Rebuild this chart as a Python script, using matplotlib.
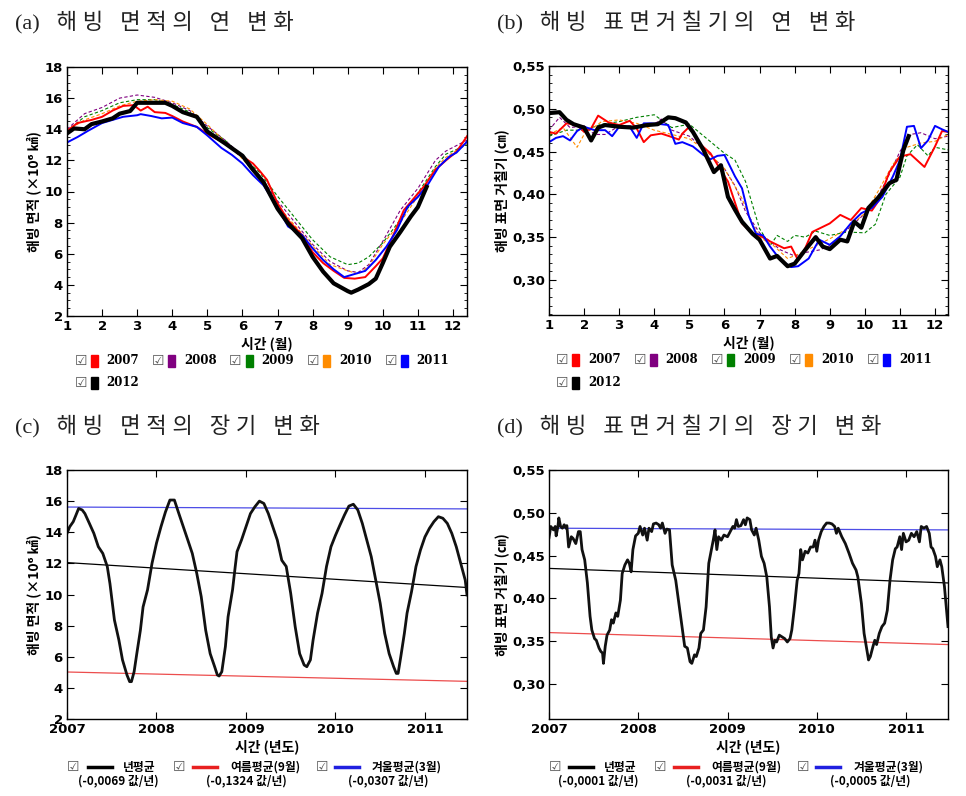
import matplotlib
matplotlib.use('Agg')
import matplotlib.pyplot as plt
from matplotlib.ticker import MultipleLocator, FuncFormatter
from matplotlib.patches import Rectangle
from matplotlib.lines import Line2D

KR = ['Noto Sans CJK KR', 'DejaVu Sans']
TITLE_FAM = ['Liberation Serif', 'Noto Sans CJK KR']

# ---------------- (a) sea-ice extent, annual cycle ----------------
years = ['2007', '2008', '2009', '2010', '2011', '2012']
year_colors = ['#ff0000', '#800080', '#008000', '#ff8c00', '#0000ff', '#000000']

a_x_2007 = [1.0, 1.3, 1.7, 2.0, 2.3, 2.6, 2.9, 3.1, 3.3, 3.5, 3.8, 4.0, 4.3, 4.7, 5.0, 5.5, 6.0, 6.3, 6.5, 6.7,
            7.0, 7.3, 7.7, 8.0, 8.3, 8.6, 8.9, 9.2, 9.5, 9.8, 10.0, 10.3, 10.6, 10.9, 11.2, 11.5, 11.8, 12.1, 12.4]
a_y_2007 = [13.9, 14.4, 14.6, 14.8, 15.2, 15.5, 15.55, 15.2, 15.45, 15.1, 15.05, 14.85, 14.5, 14.15, 13.7, 13.1,
            12.25, 11.8, 11.3, 10.75, 9.25, 8.15, 7.2, 6.1, 5.4, 4.9, 4.45, 4.4, 4.5, 5.2, 5.7, 7.2, 8.8, 9.6, 10.4,
            11.4, 12.0, 12.55, 13.55]
a_x_dash = [1.0, 1.5, 2.0, 2.5, 3.0, 3.5, 4.0, 4.5, 5.0, 5.5, 6.0, 6.5, 7.0, 7.5, 8.0, 8.5, 9.0, 9.3, 9.6, 10.0,
            10.5, 11.0, 11.5, 11.8, 12.4]
a_y_2008 = [14.0, 15.0, 15.4, 16.0, 16.2, 16.05, 15.7, 15.2, 14.2, 13.3, 12.3, 11.0, 9.4, 8.0, 6.6, 5.5, 4.9, 4.8,
            5.3, 6.8, 8.8, 10.2, 12.0, 12.6, 13.3]
a_y_2009 = [13.9, 14.8, 15.2, 15.7, 15.9, 15.9, 15.6, 15.1, 14.1, 13.3, 12.2, 11.2, 9.7, 8.3, 6.9, 5.8, 5.3, 5.4,
            5.8, 6.7, 8.2, 9.9, 11.6, 12.4, 13.0]
a_y_2010 = [13.9, 14.6, 15.0, 15.5, 15.8, 15.9, 15.8, 15.3, 14.3, 13.2, 12.1, 10.8, 9.1, 7.8, 6.5, 5.3, 4.9, 4.7,
            5.2, 6.6, 8.0, 9.7, 11.5, 12.2, 13.1]
a_x_2011 = [1.0, 1.3, 1.6, 2.0, 2.3, 2.6, 3.0, 3.1, 3.4, 3.7, 4.0, 4.3, 4.7, 5.0, 5.4, 5.7, 6.0, 6.3, 6.6, 7.0,
            7.3, 7.7, 8.0, 8.3, 8.6, 8.9, 9.2, 9.5, 9.8, 10.1, 10.4, 10.7, 11.0, 11.3, 11.6, 11.9, 12.1, 12.4]
a_y_2011 = [13.15, 13.5, 13.9, 14.4, 14.6, 14.8, 14.9, 14.97, 14.85, 14.7, 14.75, 14.4, 14.15, 13.6, 12.8, 12.35,
            11.8, 11.05, 10.4, 9.0, 7.75, 7.2, 6.35, 5.6, 5.0, 4.5, 4.7, 4.9, 5.6, 6.45, 7.5, 9.0, 9.65, 10.5, 11.6,
            12.25, 12.5, 13.2]
a_x_2012 = [1.0, 1.2, 1.5, 1.7, 2.0, 2.3, 2.5, 2.8, 3.0, 3.5, 3.8, 4.0, 4.3, 4.7, 5.0, 5.5, 6.0, 6.3, 6.6, 7.0,
            7.3, 7.7, 8.0, 8.3, 8.6, 9.0, 9.1, 9.3, 9.6, 9.8, 10.0, 10.2, 10.5, 10.8, 11.0, 11.25]
a_y_2012 = [13.73, 14.05, 14.0, 14.33, 14.5, 14.7, 15.0, 15.17, 15.7, 15.7, 15.7, 15.5, 15.1, 14.8, 13.85, 13.1,
            12.3, 11.4, 10.6, 8.9, 7.95, 7.0, 5.8, 4.85, 4.1, 3.6, 3.5, 3.7, 4.05, 4.4, 5.4, 6.45, 7.4, 8.4, 9.0, 10.3]

# ---------------- (b) surface roughness, annual cycle ----------------
b_x_2007 = [1.0, 1.2, 1.5, 1.8, 2.0, 2.2, 2.4, 2.7, 3.0, 3.3, 3.5, 3.7, 3.9, 4.2, 4.5, 4.7, 4.8, 5.0, 5.3, 5.6,
            5.9, 6.1, 6.4, 6.5, 6.8, 7.0, 7.3, 7.5, 7.7, 7.9, 8.1, 8.3, 8.5, 8.8, 9.0, 9.3, 9.6, 9.9, 10.2, 10.4,
            10.7, 11.0, 11.3, 11.7, 12.0, 12.2, 12.37]
b_y_2007 = [0.473, 0.471, 0.483, 0.481, 0.473, 0.477, 0.492, 0.484, 0.481, 0.486, 0.477, 0.461, 0.469, 0.471,
            0.467, 0.464, 0.471, 0.479, 0.459, 0.448, 0.428, 0.415, 0.378, 0.366, 0.354, 0.352, 0.345, 0.341,
            0.337, 0.339, 0.323, 0.337, 0.356, 0.362, 0.366, 0.376, 0.370, 0.384, 0.381, 0.393, 0.426, 0.444,
            0.447, 0.432, 0.456, 0.474, 0.473]
b_x_2008 = [1.0, 1.3, 1.6, 2.0, 2.3, 2.6, 3.0, 3.5, 4.0, 4.2, 4.5, 5.0, 5.5, 6.0, 6.3, 6.6, 7.0, 7.3, 7.6, 8.0,
            8.3, 8.7, 9.0, 9.4, 9.8, 10.2, 10.6, 11.0, 11.3, 11.6, 12.0, 12.37]
b_y_2008 = [0.475, 0.490, 0.478, 0.480, 0.470, 0.470, 0.480, 0.480, 0.482, 0.488, 0.475, 0.468, 0.450, 0.430,
            0.410, 0.380, 0.355, 0.345, 0.335, 0.328, 0.332, 0.335, 0.340, 0.355, 0.370, 0.385, 0.415, 0.450,
            0.470, 0.472, 0.465, 0.468]
b_x_2009 = [1.0, 1.5, 2.0, 2.5, 3.0, 3.5, 4.0, 4.5, 5.0, 5.5, 6.0, 6.3, 6.6, 7.0, 7.3, 7.5, 7.8, 8.0, 8.3, 8.6,
            9.0, 9.5, 10.0, 10.3, 10.6, 11.0, 11.2, 11.5, 11.8, 12.0, 12.37]
b_y_2009 = [0.468, 0.475, 0.475, 0.482, 0.485, 0.490, 0.493, 0.478, 0.482, 0.465, 0.448, 0.440, 0.415, 0.360,
            0.340, 0.352, 0.345, 0.352, 0.350, 0.357, 0.352, 0.356, 0.355, 0.365, 0.400, 0.420, 0.445, 0.458,
            0.445, 0.455, 0.452]
b_x_2010 = [1.0, 1.4, 1.8, 2.0, 2.5, 3.0, 3.5, 4.0, 4.5, 5.0, 5.5, 6.0, 6.5, 6.8, 7.0, 7.4, 7.8, 8.1, 8.5, 9.0,
            9.5, 10.0, 10.4, 10.8, 11.2, 11.6, 12.0, 12.37]
b_y_2010 = [0.470, 0.478, 0.455, 0.470, 0.485, 0.487, 0.483, 0.475, 0.470, 0.465, 0.450, 0.430, 0.395, 0.365,
            0.350, 0.340, 0.325, 0.330, 0.338, 0.348, 0.360, 0.378, 0.405, 0.435, 0.455, 0.460, 0.462, 0.470]
b_x_2011 = [1.0, 1.2, 1.4, 1.6, 1.8, 2.0, 2.3, 2.6, 2.8, 3.0, 3.3, 3.5, 3.7, 3.9, 4.2, 4.4, 4.6, 4.8, 5.1, 5.4,
            5.6, 5.8, 6.0, 6.3, 6.5, 6.7, 6.9, 7.1, 7.3, 7.6, 7.9, 8.1, 8.4, 8.7, 9.0, 9.3, 9.6, 9.9, 10.2, 10.5,
            10.8, 11.0, 11.2, 11.4, 11.6, 11.8, 12.0, 12.2, 12.37]
b_y_2011 = [0.461, 0.466, 0.468, 0.463, 0.474, 0.479, 0.475, 0.475, 0.468, 0.479, 0.479, 0.466, 0.483, 0.483,
            0.482, 0.481, 0.459, 0.461, 0.456, 0.446, 0.441, 0.445, 0.446, 0.421, 0.407, 0.374, 0.354, 0.352,
            0.339, 0.323, 0.315, 0.316, 0.325, 0.347, 0.341, 0.351, 0.366, 0.378, 0.384, 0.397, 0.421, 0.440,
            0.479, 0.480, 0.454, 0.463, 0.480, 0.476, 0.473]
b_x_2012 = [1.0, 1.3, 1.5, 1.7, 2.0, 2.2, 2.4, 2.6, 3.0, 3.4, 3.8, 4.1, 4.4, 4.6, 4.9, 5.1, 5.4, 5.7, 5.9, 6.1,
            6.3, 6.5, 6.8, 7.0, 7.3, 7.5, 7.8, 8.0, 8.3, 8.6, 8.8, 9.0, 9.3, 9.5, 9.7, 9.9, 10.1, 10.4, 10.7, 10.9,
            11.1, 11.25]
b_y_2012 = [0.495, 0.496, 0.487, 0.482, 0.478, 0.463, 0.478, 0.481, 0.479, 0.478, 0.481, 0.482, 0.490, 0.489,
            0.484, 0.473, 0.452, 0.426, 0.434, 0.397, 0.382, 0.368, 0.354, 0.347, 0.325, 0.328, 0.316, 0.319,
            0.335, 0.350, 0.339, 0.336, 0.347, 0.345, 0.368, 0.361, 0.384, 0.397, 0.413, 0.417, 0.452, 0.468]

# ---------------- (c) sea-ice extent, long-term ----------------
c_t = [2007.0, 2007.03, 2007.07, 2007.1, 2007.13, 2007.17, 2007.2, 2007.25, 2007.3, 2007.35, 2007.4, 2007.45,
       2007.48, 2007.53, 2007.58, 2007.62, 2007.67, 2007.7, 2007.72, 2007.75, 2007.78, 2007.82, 2007.85, 2007.9,
       2007.95, 2008.0, 2008.05, 2008.1, 2008.15, 2008.2, 2008.25, 2008.3, 2008.35, 2008.4, 2008.45, 2008.5,
       2008.55, 2008.6, 2008.65, 2008.68, 2008.7, 2008.73, 2008.77, 2008.8, 2008.85, 2008.88, 2008.9, 2008.95,
       2009.0, 2009.05, 2009.1, 2009.15, 2009.2, 2009.25, 2009.3, 2009.35, 2009.4, 2009.45, 2009.5, 2009.55,
       2009.6, 2009.65, 2009.68, 2009.72, 2009.75, 2009.8, 2009.85, 2009.9, 2009.95, 2010.0, 2010.05, 2010.1,
       2010.15, 2010.2, 2010.25, 2010.3, 2010.35, 2010.4, 2010.45, 2010.5, 2010.55, 2010.6, 2010.65, 2010.68,
       2010.7, 2010.73, 2010.77, 2010.8, 2010.85, 2010.9, 2010.95, 2011.0, 2011.05, 2011.1, 2011.15, 2011.2,
       2011.25, 2011.3, 2011.35, 2011.4, 2011.45, 2011.47]
c_v = [13.93, 14.35, 14.68, 15.1, 15.53, 15.43, 15.2, 14.57, 13.93, 13.07, 12.64, 11.8, 10.7, 8.36, 7.07, 5.8,
       4.83, 4.4, 4.4, 5.04, 6.2, 7.7, 9.2, 10.3, 12.0, 13.3, 14.35, 15.3, 16.07, 16.07, 15.2, 14.35, 13.5, 12.64,
       11.36, 9.86, 7.7, 6.2, 5.36, 4.83, 4.76, 5.04, 6.65, 8.57, 10.3, 11.8, 12.75, 13.5, 14.35, 15.2, 15.64,
       16.0, 15.85, 15.2, 14.35, 13.5, 12.2, 11.8, 10.07, 7.93, 6.2, 5.47, 5.36, 5.8, 7.07, 8.8, 10.07, 11.8,
       13.07, 13.8, 14.46, 15.1, 15.68, 15.8, 15.43, 14.57, 13.5, 12.43, 10.93, 9.43, 7.5, 6.2, 5.36, 4.93, 4.93,
       6.0, 7.5, 8.8, 10.18, 11.8, 12.86, 13.7, 14.25, 14.68, 15.0, 14.9, 14.57, 13.93, 13.07, 12.0, 10.93, 9.97]
trend_t = [2007.0, 2011.47]
c_annual = [12.05, 10.45]
c_summer = [5.02, 4.42]
c_winter = [15.62, 15.50]
c_slopes = ['(-0,0069 값/년)', '(-0,1324 값/년)', '(-0,0307 값/년)']

# ---------------- (d) surface roughness, long-term ----------------
d_t = [2007.0, 2007.02, 2007.05, 2007.07, 2007.08, 2007.1, 2007.11, 2007.13, 2007.15, 2007.17, 2007.19, 2007.2,
       2007.22, 2007.25, 2007.27, 2007.3, 2007.33, 2007.35, 2007.37, 2007.4, 2007.43, 2007.46, 2007.48, 2007.51,
       2007.53, 2007.56, 2007.58, 2007.6, 2007.61, 2007.63, 2007.65, 2007.68, 2007.7, 2007.72, 2007.75, 2007.77,
       2007.8, 2007.82, 2007.85, 2007.88, 2007.9, 2007.92, 2007.94, 2007.97, 2008.0, 2008.02, 2008.05, 2008.07,
       2008.1, 2008.12, 2008.15, 2008.17, 2008.2, 2008.23, 2008.25, 2008.27, 2008.3, 2008.32, 2008.35, 2008.38,
       2008.42, 2008.46, 2008.5, 2008.52, 2008.55, 2008.58, 2008.6, 2008.63, 2008.65, 2008.68, 2008.7, 2008.73,
       2008.76, 2008.79, 2008.82, 2008.84, 2008.86, 2008.88, 2008.9, 2008.93, 2008.96, 2009.0, 2009.03, 2009.06,
       2009.08, 2009.1, 2009.12, 2009.15, 2009.18, 2009.2, 2009.22, 2009.25, 2009.27, 2009.3, 2009.32, 2009.35,
       2009.38, 2009.41, 2009.44, 2009.47, 2009.49, 2009.51, 2009.53, 2009.55, 2009.58, 2009.61, 2009.64, 2009.67,
       2009.7, 2009.72, 2009.75, 2009.78, 2009.8, 2009.82, 2009.84, 2009.87, 2009.9, 2009.93, 2009.96, 2009.98,
       2010.0, 2010.02, 2010.05, 2010.08, 2010.11, 2010.14, 2010.17, 2010.2, 2010.22, 2010.24, 2010.28, 2010.32,
       2010.36, 2010.4, 2010.44, 2010.46, 2010.5, 2010.53, 2010.56, 2010.58, 2010.6, 2010.63, 2010.65, 2010.67,
       2010.7, 2010.73, 2010.76, 2010.79, 2010.82, 2010.85, 2010.88, 2010.9, 2010.93, 2010.95, 2010.97, 2011.0,
       2011.03, 2011.06, 2011.09, 2011.12, 2011.15, 2011.17, 2011.2, 2011.23, 2011.26, 2011.28, 2011.3, 2011.33,
       2011.35, 2011.38, 2011.4, 2011.43, 2011.45, 2011.47]
d_v = [0.471, 0.484, 0.480, 0.484, 0.473, 0.484, 0.494, 0.484, 0.482, 0.486, 0.482, 0.485, 0.460, 0.472, 0.470,
       0.464, 0.478, 0.478, 0.457, 0.445, 0.418, 0.379, 0.363, 0.353, 0.351, 0.342, 0.338, 0.336, 0.324, 0.344,
       0.357, 0.363, 0.375, 0.371, 0.383, 0.379, 0.398, 0.429, 0.439, 0.445, 0.441, 0.431, 0.457, 0.473, 0.476,
       0.484, 0.474, 0.482, 0.468, 0.482, 0.478, 0.487, 0.488, 0.486, 0.482, 0.488, 0.476, 0.481, 0.480, 0.439,
       0.421, 0.390, 0.359, 0.344, 0.342, 0.326, 0.324, 0.334, 0.332, 0.342, 0.359, 0.363, 0.390, 0.441, 0.457,
       0.468, 0.480, 0.457, 0.472, 0.468, 0.474, 0.472, 0.478, 0.484, 0.482, 0.492, 0.484, 0.485, 0.492, 0.486,
       0.494, 0.492, 0.480, 0.474, 0.482, 0.468, 0.449, 0.441, 0.425, 0.390, 0.355, 0.342, 0.351, 0.349, 0.357,
       0.355, 0.353, 0.349, 0.353, 0.363, 0.390, 0.421, 0.429, 0.457, 0.445, 0.455, 0.453, 0.460, 0.460, 0.468,
       0.455, 0.468, 0.478, 0.484, 0.488, 0.488, 0.487, 0.484, 0.476, 0.482, 0.472, 0.464, 0.453, 0.441, 0.433,
       0.425, 0.394, 0.359, 0.340, 0.328, 0.332, 0.344, 0.351, 0.346, 0.359, 0.367, 0.371, 0.386, 0.421, 0.445,
       0.458, 0.460, 0.472, 0.457, 0.476, 0.466, 0.468, 0.476, 0.472, 0.478, 0.466, 0.484, 0.482, 0.484, 0.476,
       0.460, 0.458, 0.449, 0.437, 0.445, 0.437, 0.414, 0.390, 0.367]
d_annual = [0.435, 0.418]
d_summer = [0.360, 0.346]
d_winter = [0.482, 0.480]
d_slopes = ['(-0,0001 값/년)', '(-0,0031 값/년)', '(-0,0005 값/년)']

trend_names = ['년평균', '여름평균(9월)', '겨울평균(3월)']
trend_colors = ['#000000', '#e82020', '#2020e0']

titles = ['(a)   해 빙   면 적 의   연   변 화',
          '(b)   해 빙   표 면 거 칠 기 의   연   변 화',
          '(c)   해 빙   면 적 의   장 기   변 화',
          '(d)   해 빙   표 면 거 칠 기 의   장 기   변 화']

# ---------------- figure ----------------
W, H = 966, 796
fig = plt.figure(figsize=(W / 100, H / 100), dpi=100)


def fx(px):
    return px / W


def fy(py):
    return 1 - py / H


def make_ax(l, t, r, b):
    return fig.add_axes([fx(l), fy(b), fx(r) - fx(l), fy(t) - fy(b)])


comma = FuncFormatter(lambda v, p: ('%.2f' % v).replace('.', ','))


def style(ax):
    ax.tick_params(which='both', direction='in', top=True, right=True, labelsize=9.5, pad=3)
    ax.tick_params(which='major', length=5)
    ax.tick_params(which='minor', length=2.5)
    for lab in ax.get_xticklabels() + ax.get_yticklabels():
        lab.set_fontweight('bold')
    for s in ax.spines.values():
        s.set_linewidth(1.0)


ax_a = make_ax(67, 67, 467, 316)
ax_b = make_ax(549, 66, 948, 315)
ax_c = make_ax(67, 470, 467, 719)
ax_d = make_ax(549, 470, 948, 719)

dash = (0, (3, 2))
# (a)
ax_a.plot(a_x_dash, a_y_2008, color=year_colors[1], lw=0.8, ls=dash)
ax_a.plot(a_x_dash, a_y_2009, color=year_colors[2], lw=0.8, ls=dash)
ax_a.plot(a_x_dash, a_y_2010, color=year_colors[3], lw=0.8, ls=dash)
ax_a.plot(a_x_2007, a_y_2007, color=year_colors[0], lw=1.4)
ax_a.plot(a_x_2011, a_y_2011, color=year_colors[4], lw=1.4)
ax_a.plot(a_x_2012, a_y_2012, color=year_colors[5], lw=3.0)
ax_a.set_xlim(1, 12.4)
ax_a.set_ylim(2, 18)
ax_a.xaxis.set_major_locator(MultipleLocator(1))
ax_a.yaxis.set_major_locator(MultipleLocator(2))
ax_a.yaxis.set_minor_locator(MultipleLocator(0.5))
style(ax_a)

# (b)
ax_b.plot(b_x_2008, b_y_2008, color=year_colors[1], lw=0.8, ls=dash)
ax_b.plot(b_x_2009, b_y_2009, color=year_colors[2], lw=0.8, ls=dash)
ax_b.plot(b_x_2010, b_y_2010, color=year_colors[3], lw=0.8, ls=dash)
ax_b.plot(b_x_2007, b_y_2007, color=year_colors[0], lw=1.4)
ax_b.plot(b_x_2011, b_y_2011, color=year_colors[4], lw=1.4)
ax_b.plot(b_x_2012, b_y_2012, color=year_colors[5], lw=3.0)
ax_b.set_xlim(1, 12.37)
ax_b.set_ylim(0.259, 0.55)
ax_b.xaxis.set_major_locator(MultipleLocator(1))
ax_b.yaxis.set_major_locator(MultipleLocator(0.05))
ax_b.yaxis.set_minor_locator(MultipleLocator(0.01))
ax_b.yaxis.set_major_formatter(comma)
style(ax_b)

# (c)
ax_c.plot(trend_t, c_annual, color=trend_colors[0], lw=0.9)
ax_c.plot(trend_t, c_summer, color=trend_colors[1], lw=0.9, alpha=0.8)
ax_c.plot(trend_t, c_winter, color=trend_colors[2], lw=0.9, alpha=0.8)
ax_c.plot(c_t, c_v, color='#111111', lw=2.0)
ax_c.set_xlim(2007, 2011.47)
ax_c.set_ylim(2, 18)
ax_c.xaxis.set_major_locator(MultipleLocator(1))
ax_c.yaxis.set_major_locator(MultipleLocator(2))
ax_c.xaxis.set_major_formatter(FuncFormatter(lambda v, p: '%d' % round(v)))
style(ax_c)

# (d)
ax_d.plot(trend_t, d_annual, color=trend_colors[0], lw=0.9)
ax_d.plot(trend_t, d_summer, color=trend_colors[1], lw=0.9, alpha=0.8)
ax_d.plot(trend_t, d_winter, color=trend_colors[2], lw=0.9, alpha=0.8)
ax_d.plot(d_t, d_v, color='#111111', lw=2.0)
ax_d.set_xlim(2007, 2011.47)
ax_d.set_ylim(0.259, 0.55)
ax_d.xaxis.set_major_locator(MultipleLocator(1))
ax_d.yaxis.set_major_locator(MultipleLocator(0.05))
ax_d.yaxis.set_major_formatter(comma)
ax_d.xaxis.set_major_formatter(FuncFormatter(lambda v, p: '%d' % round(v)))
style(ax_d)

# axis labels
lab_kw = dict(fontsize=10, fontweight='bold', family=KR)
ax_a.set_xlabel('시간 (월)', labelpad=2, **lab_kw)
ax_b.set_xlabel('시간 (월)', labelpad=2, **lab_kw)
ax_c.set_xlabel('시간 (년도)', labelpad=2, **lab_kw)
ax_d.set_xlabel('시간 (년도)', labelpad=2, **lab_kw)
ax_a.set_ylabel('해빙 면적 (×10⁶ ㎢)', labelpad=2, **lab_kw)
ax_c.set_ylabel('해빙 면적 (×10⁶ ㎢)', labelpad=2, **lab_kw)
ax_b.set_ylabel('해빙 표면 거칠기 (㎝)', labelpad=2, **lab_kw)
ax_d.set_ylabel('해빙 표면 거칠기 (㎝)', labelpad=2, **lab_kw)

# titles
title_kw = dict(fontsize=16, family=TITLE_FAM, fontweight='light', va='center', ha='left', color='#222222')
fig.text(fx(15), fy(23), titles[0], **title_kw)
fig.text(fx(497), fy(23), titles[1], **title_kw)
fig.text(fx(15), fy(427), titles[2], **title_kw)
fig.text(fx(497), fy(427), titles[3], **title_kw)


# year legends for (a) and (b)
def year_legend(x0, row1, row2, step):
    for i, (yr, col) in enumerate(zip(years, year_colors)):
        if i < 5:
            x, y = x0 + i * step, row1
        else:
            x, y = x0, row2
        fig.text(fx(x), fy(y), '☑', fontsize=10, color='#555555', ha='center', va='center', family='DejaVu Sans')
        fig.patches.append(Rectangle((fx(x + 10), fy(y + 6)), fx(7), 12 / H, color=col,
                                     transform=fig.transFigure, figure=fig))
        fig.text(fx(x + 26), fy(y), yr, fontsize=8.5, fontweight='bold', ha='left', va='center',
                 family='DejaVu Serif')


year_legend(80.5, 361, 383, 77.5)
year_legend(562, 360, 383, 77.7)


# trend legends for (c) and (d)
def trend_legend(cb_x, line_x, text_c, slope_c, slopes, row1, row2):
    for i in range(3):
        fig.text(fx(cb_x[i]), fy(row1), '☑', fontsize=10, color='#555555', ha='center', va='center',
                 family='DejaVu Sans')
        fig.add_artist(Line2D([fx(line_x[i]), fx(line_x[i] + 24)], [fy(row1), fy(row1)],
                              color=trend_colors[i], lw=2.5, transform=fig.transFigure))
        fig.text(fx(text_c[i]), fy(row1), trend_names[i], fontsize=8.5, fontweight='bold', ha='center',
                 va='center', family=KR)
        fig.text(fx(slope_c[i]), fy(row2), slopes[i], fontsize=8.5, fontweight='bold', ha='center',
                 va='center', family=KR)


trend_legend([73, 179, 322], [88, 193, 335], [139, 265, 407], [118, 246, 388], c_slopes, 767, 781)
trend_legend([555, 660, 803], [569, 674, 816], [620, 746, 889], [598, 726, 870], d_slopes, 767, 781)

fig.savefig('out.png', dpi=100)
